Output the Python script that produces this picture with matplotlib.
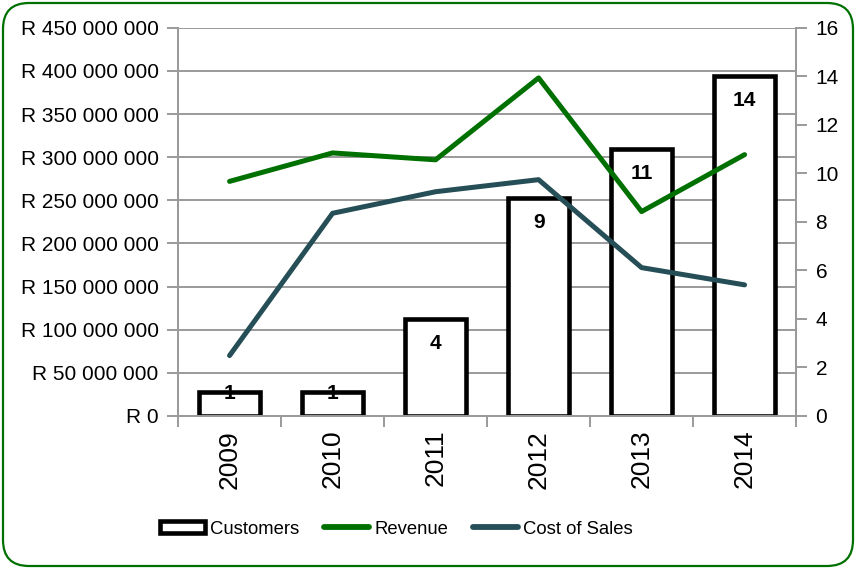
import matplotlib.pyplot as plt
from matplotlib.patches import FancyBboxPatch, Rectangle
from matplotlib.lines import Line2D
from matplotlib.ticker import FuncFormatter, FixedLocator

plt.rcParams['font.family'] = ['Liberation Sans', 'DejaVu Sans']

years = ["2009", "2010", "2011", "2012", "2013", "2014"]
customers = [1, 1, 4, 9, 11, 14]
revenue = [272e6, 305e6, 297e6, 392e6, 237e6, 303e6]
cost_of_sales = [70e6, 235e6, 260e6, 274e6, 172e6, 152e6]

GREEN = "#007000"
SLATE = "#264E56"
GRID = "#9a9a9a"
RAND_MAX = 450e6
RAND_TICKS = [i * 50e6 for i in range(10)]

fig = plt.figure(figsize=(8.56, 5.69), dpi=100)

# rounded green frame, kept behind the axes
frame = FancyBboxPatch((3, 3), 850, 563, boxstyle="round,pad=0,rounding_size=26",
                       transform=None, facecolor="white", edgecolor=GREEN,
                       linewidth=1.6, zorder=-10)
fig.patches.append(frame)

# three layers: base (grid + rand labels), bars (right scale), lines on top
ax_base = fig.add_axes([0.208, 0.269, 0.722, 0.682])
ax_base.patch.set_visible(False)
ax_bar = ax_base.twinx()
ax_bar.patch.set_visible(False)
ax_line = ax_base.twinx()
ax_line.patch.set_visible(False)

x = list(range(len(years)))

# bars on the customers scale
ax_bar.bar(x, customers, width=0.6, facecolor="white", edgecolor="black",
           linewidth=3.3, zorder=2)
for xi, v in zip(x, customers):
    off = -17.6 if v > 2 else -1.5
    ax_bar.annotate(str(v), (xi, v), xytext=(0, off), textcoords="offset points",
                    ha="center", va="center", fontsize=15, fontweight="bold",
                    zorder=3)
ax_bar.set_ylim(0, 16)
ax_bar.set_yticks(range(0, 17, 2))

# lines on the rand scale
ax_line.plot(x, revenue, color=GREEN, linewidth=3.6, solid_capstyle="round")
ax_line.plot(x, cost_of_sales, color=SLATE, linewidth=3.6, solid_capstyle="round")
ax_line.set_ylim(0, RAND_MAX)
ax_line.yaxis.set_visible(False)

ax_base.set_ylim(0, RAND_MAX)
ax_base.set_yticks(RAND_TICKS)


def rand_fmt(v, pos):
    if v == 0:
        return "R 0"
    return "R " + f"{int(round(v)):,}".replace(",", " ")


ax_base.yaxis.set_major_formatter(FuncFormatter(rand_fmt))
ax_base.yaxis.grid(True, color=GRID, linewidth=1.4)

ax_base.set_xlim(-0.5, len(years) - 0.5)
ax_base.set_xticks(x)
ax_base.set_xticklabels(years, rotation=90, fontsize=19)
ax_base.xaxis.set_minor_locator(FixedLocator([i - 0.5 for i in range(len(years) + 1)]))
ax_base.tick_params(axis="x", which="major", length=0, pad=10)
ax_base.tick_params(axis="x", which="minor", length=8, width=1.4, color=GRID)
ax_base.tick_params(axis="y", labelsize=15, length=8, width=1.4, color=GRID, pad=6)
ax_bar.tick_params(axis="y", labelsize=15, length=8, width=1.4, color=GRID, pad=6)

for a in (ax_base, ax_bar, ax_line):
    a.spines["top"].set_visible(False)
    for s in ("left", "right", "bottom"):
        a.spines[s].set_color(GRID)
        a.spines[s].set_linewidth(1.4)

handles = [
    Rectangle((0, 0), 1, 1, facecolor="white", edgecolor="black", linewidth=3.3),
    Line2D([], [], color=GREEN, linewidth=4.2, solid_capstyle="round"),
    Line2D([], [], color=SLATE, linewidth=4.2, solid_capstyle="round"),
]
fig.legend(handles, ["Customers", "Revenue", "Cost of Sales"], loc="center",
           bbox_to_anchor=(0.463, 0.070), ncol=3, frameon=False, fontsize=13.3,
           handlelength=2.45, handleheight=0.6, handletextpad=0.25, columnspacing=1.35)

fig.savefig("out.png", dpi=100)
